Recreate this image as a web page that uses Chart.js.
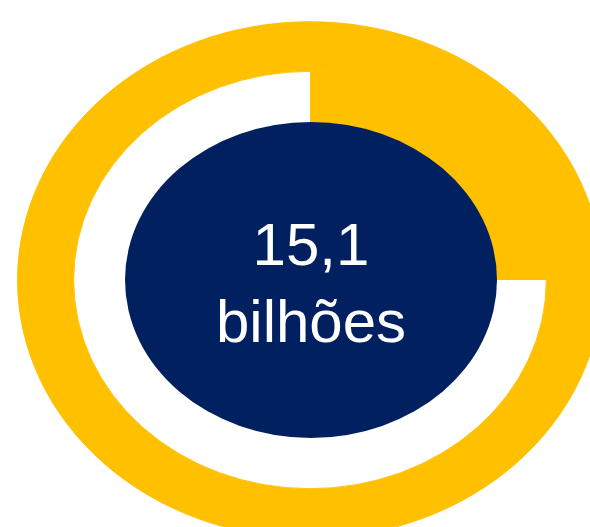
<!DOCTYPE html>
<html>
<head>
<meta charset="utf-8">
<script src="https://cdn.jsdelivr.net/npm/chart.js@4/dist/chart.umd.min.js"></script>
<style>
    html, body { margin: 0; padding: 0; background: #fff; overflow: hidden; }
    #ring { display: block; }
</style>
</head>
<body>
<canvas id="ring" width="590" height="527"></canvas>
<script>
// Chart data
const outerLabels = ['Total'];
const outerValues = [100];
const shareLabels = ['Parcela', 'Restante'];
const shareValues = [25, 75];
const centerValue = '15,1';
const centerUnit = 'bilhões';

// Colours
const gold = '#FFC000';
const navy = '#002060';

// Squash the round doughnut into an ellipse
const squash = 0.883;
const ellipsePlugin = {
    id: 'ellipse',
    beforeDatasetsDraw(chart) {
        const ctx = chart.ctx;
        const cx = (chart.chartArea.left + chart.chartArea.right) / 2;
        const cy = (chart.chartArea.top + chart.chartArea.bottom) / 2;
        ctx.save();
        ctx.translate(cx, cy);
        ctx.scale(1, squash);
        ctx.translate(-cx, -cy);
    },
    afterDatasetsDraw(chart) {
        const ctx = chart.ctx;
        ctx.restore();

        // Navy centre disc with the label
        const cx = (chart.chartArea.left + chart.chartArea.right) / 2;
        const cy = (chart.chartArea.top + chart.chartArea.bottom) / 2;
        ctx.save();
        ctx.fillStyle = navy;
        ctx.beginPath();
        ctx.ellipse(cx + 1, cy, 186, 158, 0, 0, Math.PI * 2);
        ctx.fill();

        ctx.fillStyle = '#ffffff';
        ctx.font = '60px "Liberation Sans", Arial, sans-serif';
        ctx.textAlign = 'center';
        ctx.textBaseline = 'alphabetic';
        ctx.fillText(centerValue, cx + 1, cy - 15);
        ctx.fillText(centerUnit, cx + 1, cy + 62);
        ctx.restore();
    }
};

const ctx = document.getElementById('ring').getContext('2d');
const ringChart = new Chart(ctx, {
    type: 'doughnut',
    data: {
        labels: shareLabels,
        datasets: [
            {
                label: 'Total',
                data: outerValues,
                backgroundColor: [gold],
                borderColor: [gold],
                borderWidth: 1,
                weight: 56
            },
            {
                label: 'Parcela',
                data: shareValues,
                backgroundColor: [gold, '#ffffff'],
                borderColor: [gold, '#ffffff'],
                borderWidth: [1, 0],
                weight: 96
            }
        ]
    },
    options: {
        responsive: false,
        animation: false,
        radius: 292.5,
        cutout: '47.9%',
        rotation: 0,
        layout: {
            padding: { left: 30, right: 0, top: 33, bottom: 0 }
        },
        plugins: {
            legend: { display: false },
            tooltip: { enabled: false }
        },
        events: []
    },
    plugins: [ellipsePlugin]
});
</script>
</body>
</html>
